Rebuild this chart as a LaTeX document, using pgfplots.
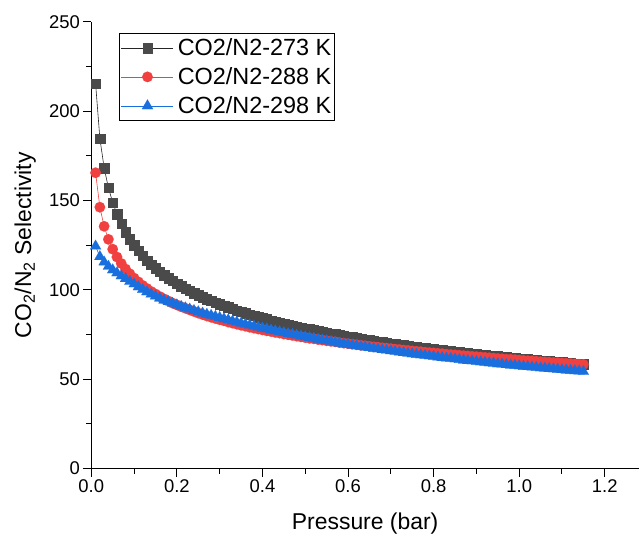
\documentclass[border=0pt]{standalone}
\usepackage{fontspec}
\setmainfont{Liberation Sans}
\usepackage{pgfplots}
\pgfplotsset{compat=1.18}
\definecolor{cK}{HTML}{4A4A4A}
\definecolor{cR}{HTML}{F04040}
\definecolor{cB}{HTML}{1A6FDF}
\begin{document}
\begin{tikzpicture}
\begin{axis}[
  name=ax,
  scale only axis,
  width=547.7bp, height=446.5bp,
  xmin=0, xmax=1.28, ymin=0, ymax=250,
  axis x line*=bottom, axis y line*=left,
  axis line style={line width=1bp, -},
  tick align=outside,
  major tick length=8bp, minor tick length=5bp,
  every tick/.style={black, line width=1bp},
  xtick={0,0.2,0.4,0.6,0.8,1.0,1.2},
  ytick={0,50,100,150,200,250},
  minor x tick num=1, minor y tick num=1,
  /pgf/number format/assume math mode=true,
  xticklabel style={/pgf/number format/.cd, fixed, fixed zerofill, precision=1},
  yticklabel style={/pgf/number format/.cd, fixed, precision=0},
  tick label style={font=\fontsize{18.5}{21}\selectfont},
  every axis x label/.style={at={([yshift=-55bp]axis description cs:0.5,0)}, anchor=center, font=\fontsize{23}{27}\selectfont},
  every axis y label/.style={at={([xshift=-66bp]axis description cs:0,0.5)}, anchor=center, rotate=90, font=\fontsize{23}{27}\selectfont},
  xlabel={Pressure (bar)},
  ylabel={CO\textsubscript{2}/N\textsubscript{2} Selectivity},
  legend style={at={(0.0511,0.9747)}, anchor=north west, draw=black, line width=0.8bp,
    font=\fontsize{23.5}{27}\selectfont, inner xsep=1.5bp, inner ysep=3bp,
    nodes={inner sep=2bp}, row sep=6.5bp, column sep=2bp},
  legend cell align=left,
  legend image code/.code={\draw[mark repeat=2,mark phase=2,#1] plot coordinates {(0bp,0bp) (26bp,0bp) (52bp,0bp)};},
]
\addplot[color=black!85, line width=0.6bp, mark=square*, mark size=4.7bp, mark options={fill=cK, draw=cK, line width=0.1bp}] coordinates {
(0.01,215.6)(0.02,184.9)(0.03,168.3)(0.04,157.2)(0.05,149.0)(0.06,142.4)(0.07,137.1)(0.08,132.5)(0.09,128.5)(0.10,125.1)(0.11,121.9)(0.12,119.2)(0.13,116.6)(0.14,114.3)(0.15,112.2)(0.16,110.2)(0.17,108.4)(0.18,106.7)(0.19,105.1)(0.20,103.6)(0.21,102.2)(0.22,100.9)(0.23,99.6)(0.24,98.3)(0.25,97.1)(0.26,96.0)(0.27,94.9)(0.28,93.9)(0.29,92.9)(0.30,92.0)(0.31,91.1)(0.32,90.3)(0.33,89.4)(0.34,88.6)(0.35,87.8)(0.36,87.0)(0.37,86.3)(0.38,85.6)(0.39,84.9)(0.40,84.2)(0.41,83.6)(0.42,83.0)(0.43,82.4)(0.44,81.8)(0.45,81.2)(0.46,80.7)(0.47,80.1)(0.48,79.6)(0.49,79.0)(0.50,78.5)(0.51,78.0)(0.52,77.5)(0.53,77.0)(0.54,76.5)(0.55,76.0)(0.56,75.6)(0.57,75.2)(0.58,74.7)(0.59,74.3)(0.60,73.9)(0.61,73.5)(0.62,73.1)(0.63,72.7)(0.64,72.3)(0.65,71.9)(0.66,71.5)(0.67,71.2)(0.68,70.8)(0.69,70.5)(0.70,70.1)(0.71,69.8)(0.72,69.4)(0.73,69.1)(0.74,68.7)(0.75,68.4)(0.76,68.1)(0.77,67.8)(0.78,67.5)(0.79,67.2)(0.80,66.9)(0.81,66.6)(0.82,66.3)(0.83,66.1)(0.84,65.8)(0.85,65.5)(0.86,65.2)(0.87,64.9)(0.88,64.7)(0.89,64.4)(0.90,64.1)(0.91,63.9)(0.92,63.6)(0.93,63.4)(0.94,63.1)(0.95,62.9)(0.96,62.7)(0.97,62.4)(0.98,62.2)(0.99,61.9)(1.00,61.7)(1.01,61.5)(1.02,61.3)(1.03,61.0)(1.04,60.8)(1.05,60.6)(1.06,60.4)(1.07,60.2)(1.08,59.9)(1.09,59.7)(1.10,59.5)(1.11,59.3)(1.12,59.1)(1.13,58.9)(1.14,58.7)(1.15,58.5)
};
\addlegendentry{CO2/N2-273 K}
\addplot[color=cR, line width=0.6bp, mark=*, mark size=5.3bp, mark options={fill=cR, draw=cR, line width=0.1bp}] coordinates {
(0.01,165.6)(0.02,146.3)(0.03,135.6)(0.04,128.3)(0.05,122.8)(0.06,118.4)(0.07,114.8)(0.08,111.7)(0.09,109.0)(0.10,106.6)(0.11,104.5)(0.12,102.5)(0.13,100.8)(0.14,99.1)(0.15,97.7)(0.16,96.3)(0.17,95.0)(0.18,93.8)(0.19,92.6)(0.20,91.6)(0.21,90.6)(0.22,89.7)(0.23,88.8)(0.24,87.9)(0.25,87.0)(0.26,86.2)(0.27,85.4)(0.28,84.7)(0.29,84.0)(0.30,83.3)(0.31,82.7)(0.32,82.0)(0.33,81.4)(0.34,80.8)(0.35,80.2)(0.36,79.7)(0.37,79.1)(0.38,78.6)(0.39,78.1)(0.40,77.6)(0.41,77.1)(0.42,76.7)(0.43,76.2)(0.44,75.8)(0.45,75.3)(0.46,74.9)(0.47,74.5)(0.48,74.1)(0.49,73.7)(0.50,73.3)(0.51,72.9)(0.52,72.6)(0.53,72.2)(0.54,71.9)(0.55,71.5)(0.56,71.2)(0.57,70.9)(0.58,70.5)(0.59,70.2)(0.60,69.9)(0.61,69.6)(0.62,69.3)(0.63,69.0)(0.64,68.7)(0.65,68.4)(0.66,68.1)(0.67,67.9)(0.68,67.6)(0.69,67.4)(0.70,67.1)(0.71,66.8)(0.72,66.6)(0.73,66.3)(0.74,66.1)(0.75,65.8)(0.76,65.6)(0.77,65.4)(0.78,65.1)(0.79,64.9)(0.80,64.7)(0.81,64.5)(0.82,64.3)(0.83,64.0)(0.84,63.8)(0.85,63.6)(0.86,63.4)(0.87,63.2)(0.88,63.0)(0.89,62.8)(0.90,62.6)(0.91,62.4)(0.92,62.2)(0.93,62.0)(0.94,61.8)(0.95,61.6)(0.96,61.4)(0.97,61.2)(0.98,61.1)(0.99,60.9)(1.00,60.7)(1.01,60.5)(1.02,60.3)(1.03,60.2)(1.04,60.0)(1.05,59.8)(1.06,59.6)(1.07,59.5)(1.08,59.3)(1.09,59.2)(1.10,59.0)(1.11,58.9)(1.12,58.7)(1.13,58.6)(1.14,58.4)(1.15,58.3)
};
\addlegendentry{CO2/N2-288 K}
\addplot[color=cB, line width=0.6bp, mark=triangle*, mark size=6.35bp, mark options={fill=cB, draw=cB, line width=0.1bp}] coordinates {
(0.01,124.5)(0.02,118.6)(0.03,115.6)(0.04,113.2)(0.05,111.2)(0.06,109.5)(0.07,107.8)(0.08,106.3)(0.09,104.7)(0.10,103.3)(0.11,101.7)(0.12,100.2)(0.13,98.9)(0.14,97.6)(0.15,96.5)(0.16,95.4)(0.17,94.3)(0.18,93.4)(0.19,92.5)(0.20,91.6)(0.21,90.7)(0.22,89.9)(0.23,89.2)(0.24,88.4)(0.25,87.7)(0.26,87.0)(0.27,86.3)(0.28,85.7)(0.29,85.1)(0.30,84.5)(0.31,83.8)(0.32,83.2)(0.33,82.5)(0.34,81.9)(0.35,81.3)(0.36,80.8)(0.37,80.2)(0.38,79.7)(0.39,79.1)(0.40,78.6)(0.41,78.1)(0.42,77.5)(0.43,77.0)(0.44,76.5)(0.45,76.0)(0.46,75.5)(0.47,75.1)(0.48,74.6)(0.49,74.1)(0.50,73.7)(0.51,73.2)(0.52,72.8)(0.53,72.3)(0.54,71.9)(0.55,71.5)(0.56,71.1)(0.57,70.6)(0.58,70.2)(0.59,69.8)(0.60,69.5)(0.61,69.1)(0.62,68.7)(0.63,68.3)(0.64,68.0)(0.65,67.6)(0.66,67.2)(0.67,66.9)(0.68,66.5)(0.69,66.2)(0.70,65.9)(0.71,65.5)(0.72,65.2)(0.73,64.9)(0.74,64.5)(0.75,64.2)(0.76,63.9)(0.77,63.6)(0.78,63.3)(0.79,63.0)(0.80,62.7)(0.81,62.4)(0.82,62.1)(0.83,61.8)(0.84,61.6)(0.85,61.3)(0.86,61.0)(0.87,60.7)(0.88,60.4)(0.89,60.2)(0.90,59.9)(0.91,59.7)(0.92,59.4)(0.93,59.1)(0.94,58.9)(0.95,58.6)(0.96,58.4)(0.97,58.1)(0.98,57.9)(0.99,57.7)(1.00,57.4)(1.01,57.2)(1.02,57.0)(1.03,56.8)(1.04,56.6)(1.05,56.3)(1.06,56.1)(1.07,55.9)(1.08,55.7)(1.09,55.5)(1.10,55.3)(1.11,55.1)(1.12,54.9)(1.13,54.7)(1.14,54.5)(1.15,54.3)
};
\addlegendentry{CO2/N2-298 K}
\end{axis}
\pgfresetboundingbox
\path (ax.south west) ++(-91.3bp,-71.5bp) rectangle ++(641bp,540bp);
\end{tikzpicture}
\end{document}
